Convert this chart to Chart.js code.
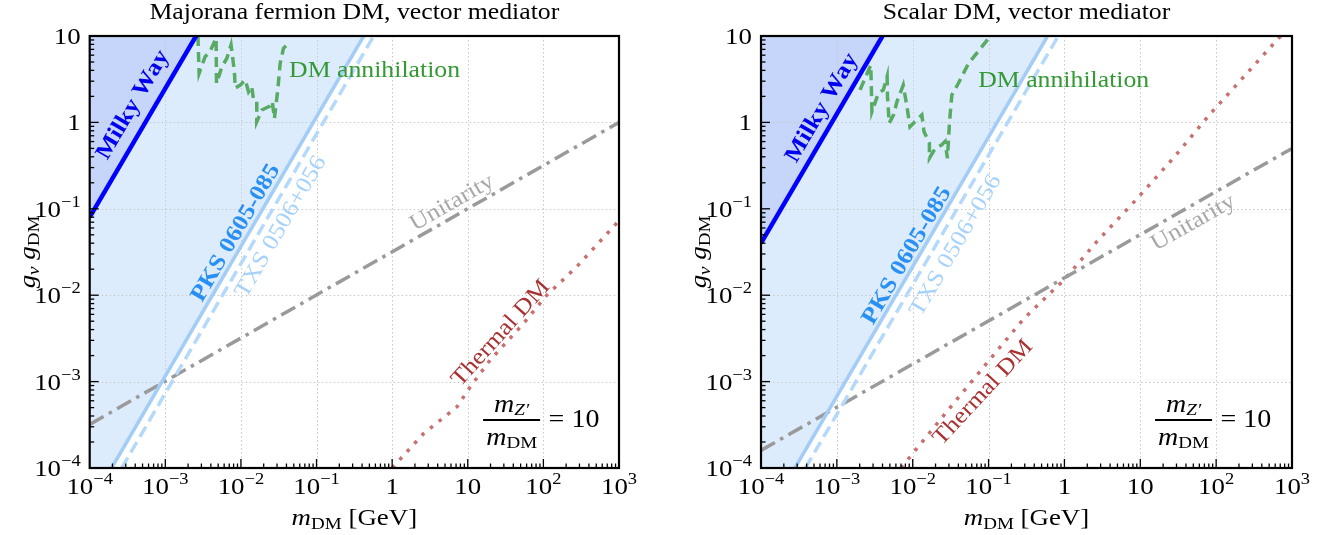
<!DOCTYPE html>
<html><head><meta charset="utf-8">
<script src="https://cdn.jsdelivr.net/npm/chart.js@4"></script>
<style>
html,body{margin:0;padding:0;background:#fff;}
#wrap{position:relative;width:1340px;height:535px;overflow:hidden;}
canvas{position:absolute;top:0;}
</style></head><body>
<div id="wrap"><canvas id="c1" width="670" height="535" style="left:0"></canvas><canvas id="c2" width="670" height="535" style="left:670px"></canvas></div>
<script>
// ---------- tick labels ----------
const xMajorTicks = [1e-4, 1e-3, 1e-2, 1e-1, 1, 10, 100, 1000];
const xTickBase = ['10', '10', '10', '10', '1', '10', '10', '10'];
const xTickExp = ['−4', '−3', '−2', '−1', '', '', '2', '3'];
const yMajorTicks = [1e-4, 1e-3, 1e-2, 1e-1, 1, 10];
const yTickBase = ['10', '10', '10', '10', '1', '10'];
const yTickExp = ['−4', '−3', '−2', '−1', '', ''];
const panelTitles = ['Majorana fermion DM, vector mediator', 'Scalar DM, vector mediator'];

// ---------- Majorana fermion DM (left) ----------
const majMilkyWayX = [1e-4, 2.55e-3];
const majMilkyWayY = [0.08, 10];
const majPksX = [1.95e-4, 0.42];
const majPksY = [1e-4, 10];
const majTxsX = [2.65e-4, 0.57];
const majTxsY = [1e-4, 10];
const majUnitarityX = [1e-4, 1e3];
const majUnitarityY = [3.2e-4, 1.0];
const majThermalX = [1, 2.6, 7.2, 10.8, 19.8, 54.6, 111, 277, 1000];
const majThermalY = [1e-4, 2.5e-4, 5.1e-4, 8.7e-4, 1.78e-3, 4.7e-3, 1.0e-2, 2.14e-2, 7.3e-2];
const majAnnihX = [2.7e-3, 2.8e-3, 3.36e-3, 3.9e-3, 4.7e-3, 4.75e-3, 5.6e-3, 6.5e-3, 7.4e-3, 8.2e-3, 8.4e-3, 9.8e-3, 0.0114, 0.0126, 0.0139, 0.0147, 0.0162, 0.0162, 0.0189, 0.0243, 0.026, 0.0277, 0.0307, 0.033, 0.0365, 0.0447];
const majAnnihY = [10, 3.7, 5.75, 6.6, 9.5, 2.83, 4.4, 5.5, 7.9, 3.9, 2.5, 2.7, 3.1, 2.27, 2.6, 1.8, 1.74, 1.02, 1.39, 1.55, 1.74, 1.11, 2.37, 4.8, 7.2, 8.6];

// ---------- Scalar DM (right) ----------
const scaMilkyWayX = [1e-4, 4.0e-3];
const scaMilkyWayY = [0.04, 10];
const scaPksX = [2.8e-4, 0.6];
const scaPksY = [1e-4, 10];
const scaTxsX = [3.85e-4, 0.83];
const scaTxsY = [1e-4, 10];
const scaUnitarityX = [1e-4, 1e3];
const scaUnitarityY = [1.6e-4, 0.5];
const scaThermalX = [7.0e-3, 0.038, 0.288, 1.0, 2.69, 9.0, 27.5, 84, 707];
const scaThermalY = [1e-4, 6.2e-4, 5.3e-3, 0.0152, 0.042, 0.13, 0.39, 1.26, 10];
const scaAnnihX = [2.02e-3, 2.8e-3, 2.9e-3, 3.53e-3, 4.1e-3, 4.6e-3, 4.65e-3, 4.9e-3, 5.6e-3, 6.2e-3, 7.5e-3, 8.4e-3, 9.2e-3, 0.0113, 0.0132, 0.0141, 0.0166, 0.0166, 0.0198, 0.0242, 0.0267, 0.0287, 0.0305, 0.0328, 0.040, 0.0543, 0.1];
const scaAnnihY = [2.38, 4.6, 1.33, 2.18, 2.38, 3.4, 1.99, 0.98, 1.22, 1.74, 2.7, 1.52, 0.89, 1.07, 1.22, 0.78, 0.575, 0.385, 0.5, 0.55, 0.6, 0.385, 0.98, 2.08, 2.84, 4.8, 9.4];

// ---------- styling helpers ----------
const SERIF = '"Liberation Serif","Times New Roman",serif';
const SX = 1.12;
const F = (size, style) => `${style || ''} ${size}px ${SERIF}`.trim();

function drawParts(ctx, parts, x, y, opt) {
  opt = opt || {};
  const align = opt.align || 'left';
  ctx.save();
  ctx.translate(x, y);
  if (opt.rot) ctx.rotate(opt.rot);
  ctx.scale(opt.sx || SX, 1);
  ctx.textBaseline = opt.baseline || 'alphabetic';
  ctx.textAlign = 'left';
  let w = 0;
  parts.forEach(p => { ctx.font = p.f; w += ctx.measureText(p.t).width + (p.gap || 0); });
  let cx = align === 'center' ? -w / 2 : (align === 'right' ? -w : 0);
  parts.forEach(p => {
    ctx.font = p.f;
    ctx.fillStyle = p.c || opt.color || '#000';
    ctx.fillText(p.t, cx, p.dy || 0);
    cx += ctx.measureText(p.t).width + (p.gap || 0);
  });
  ctx.restore();
  return w * (opt.sx || SX);
}

function series(xs, ys, color, width, dash) {
  return {
    data: xs.map((v, i) => ({ x: v, y: ys[i] })),
    showLine: true, borderColor: color, backgroundColor: color,
    borderWidth: width, borderDash: dash, borderCapStyle: 'butt',
    pointRadius: 0, fill: false, tension: 0
  };
}

function decor(p) {
  return {
    id: 'decor' + p.idx,
    beforeDatasetsDraw(chart) {
      const { ctx, chartArea: a, scales: { x, y } } = chart;
      const X = v => x.getPixelForValue(v), Y = v => y.getPixelForValue(v);
      ctx.save();
      ctx.beginPath(); ctx.rect(a.left, a.top, a.right - a.left, a.bottom - a.top); ctx.clip();
      ctx.fillStyle = 'rgb(220,236,252)';
      ctx.beginPath(); ctx.moveTo(a.left, a.bottom);
      p.pksX.forEach((v, i) => ctx.lineTo(X(v), Y(p.pksY[i])));
      ctx.lineTo(a.left, a.top); ctx.closePath(); ctx.fill();
      ctx.fillStyle = 'rgb(198,213,250)';
      ctx.beginPath(); ctx.moveTo(a.left, Y(p.mwY[0]));
      p.mwX.forEach((v, i) => ctx.lineTo(X(v), Y(p.mwY[i])));
      ctx.lineTo(a.left, a.top); ctx.closePath(); ctx.fill();
      ctx.strokeStyle = '#c8c8c8'; ctx.lineWidth = 1; ctx.setLineDash([1.5, 2.5]);
      xMajorTicks.slice(1, -1).forEach(v => {
        const px = Math.round(X(v)) + 0.5;
        ctx.beginPath(); ctx.moveTo(px, a.top); ctx.lineTo(px, a.bottom); ctx.stroke();
      });
      yMajorTicks.slice(1, -1).forEach(v => {
        const py = Math.round(Y(v)) + 0.5;
        ctx.beginPath(); ctx.moveTo(a.left, py); ctx.lineTo(a.right, py); ctx.stroke();
      });
      ctx.restore();
    },
    afterDatasetsDraw(chart) {
      const { ctx, chartArea: a, scales: { x, y } } = chart;
      const X = v => x.getPixelForValue(v), Y = v => y.getPixelForValue(v);
      const ang = (xs, ys) => Math.atan2(Y(ys[ys.length - 1]) - Y(ys[0]), X(xs[xs.length - 1]) - X(xs[0]));
      const lab = (t, vx, vy, rot, color, size, style, align) =>
        drawParts(ctx, [{ t, f: F(size, style) }], X(vx), Y(vy), { rot, color, align: align || 'center', baseline: 'middle' });
      const L = p.labels;
      lab('Milky Way', L.mw[0], L.mw[1], ang(p.mwX, p.mwY), '#0000ee', 23, 'bold');
      lab('PKS 0605-085', L.pks[0], L.pks[1], ang(p.pksX, p.pksY), '#2a8ff2', 23, 'bold');
      lab('TXS 0506+056', L.txs[0], L.txs[1], ang(p.txsX, p.txsY), '#a6d2fa', 23, '');
      lab('Unitarity', L.unit[0], L.unit[1], ang(p.unitX, p.unitY), '#a8a8a8', 23, '');
      lab('Thermal DM', L.therm[0], L.therm[1], L.thermRot * Math.PI / 180, '#a83232', 23, '');
      lab('DM annihilation', L.ann[0], L.ann[1], 0, '#339933', 23, '', 'left');
      // fraction m_Z'/m_DM = 10
      const fx = X(L.frac[0]), fy = Y(L.frac[1]);
      ctx.save();
      ctx.strokeStyle = '#000'; ctx.lineWidth = 2; ctx.setLineDash([]);
      ctx.beginPath(); ctx.moveTo(fx - 28.5, fy); ctx.lineTo(fx + 28.5, fy); ctx.stroke();
      ctx.restore();
      drawParts(ctx, [{ t: 'm', f: F(25, 'italic') }, { t: 'Z′', f: F(17, 'italic'), dy: 3 }], fx, fy - 8, { align: 'center' });
      drawParts(ctx, [{ t: 'm', f: F(25, 'italic') }, { t: 'DM', f: F(17), dy: 3 }], fx, fy + 25, { align: 'center' });
      drawParts(ctx, [{ t: '= 10', f: F(25) }], fx + 37, fy + 7, { align: 'left' });

      // frame
      ctx.save();
      ctx.strokeStyle = '#000'; ctx.lineWidth = 2.2; ctx.setLineDash([]);
      ctx.strokeRect(a.left, a.top, a.right - a.left, a.bottom - a.top);
      ctx.lineWidth = 1.3;
      for (let d = -4; d < 3; d++) for (let k = 1; k < 10; k++) {
        const v = k * Math.pow(10, d); const px = X(v); const len = k === 1 ? 9 : 4.5;
        if (px <= a.left + 0.5) continue;
        ctx.beginPath(); ctx.moveTo(px, a.bottom); ctx.lineTo(px, a.bottom - len); ctx.stroke();
      }
      for (let d = -4; d < 1; d++) for (let k = 1; k < 10; k++) {
        const v = k * Math.pow(10, d); const py = Y(v); const len = k === 1 ? 9 : 4.5;
        if (py >= a.bottom - 0.5) continue;
        ctx.beginPath(); ctx.moveTo(a.left, py); ctx.lineTo(a.left + len, py); ctx.stroke();
      }
      ctx.restore();
      xMajorTicks.forEach((v, i) => {
        const parts = [{ t: xTickBase[i], f: F(24) }];
        if (xTickExp[i]) parts.push({ t: xTickExp[i], f: F(16.5), dy: -10 });
        drawParts(ctx, parts, X(v), a.bottom + 26, { align: 'center' });
      });
      yMajorTicks.forEach((v, i) => {
        const parts = [{ t: yTickBase[i], f: F(24) }];
        if (yTickExp[i]) parts.push({ t: yTickExp[i], f: F(16.5), dy: -10 });
        drawParts(ctx, parts, a.left - 9, Y(v) + 8, { align: 'right' });
      });
      const cxm = (a.left + a.right) / 2, cym = (a.top + a.bottom) / 2;
      drawParts(ctx, [{ t: 'm', f: F(24, 'italic') }, { t: 'DM', f: F(17), dy: 4 }, { t: ' [GeV]', f: F(24) }], cxm, 525, { align: 'center' });
      drawParts(ctx, [{ t: 'g', f: F(24, 'italic') }, { t: 'ν', f: F(17, 'italic'), dy: 4, gap: 6 },
                      { t: 'g', f: F(24, 'italic') }, { t: 'DM', f: F(17), dy: 4 }], a.left - 55, cym, { align: 'center', rot: -Math.PI / 2 });
      drawParts(ctx, [{ t: p.title, f: F(23) }], cxm, 19, { align: 'center' });
    }
  };
}

function panel(canvasId, p) {
  const ds = [
    series(p.mwX, p.mwY, '#0000ff', 4.5, []),
    series(p.annX, p.annY, '#58ab62', 3.5, [10, 6]),
    series(p.pksX, p.pksY, '#a3cdf7', 3.5, []),
    series(p.txsX, p.txsY, '#b5d9fb', 3.5, [12, 6]),
    series(p.unitX, p.unitY, '#9a9a9a', 3.5, [16, 6, 3.5, 6]),
    series(p.thermX, p.thermY, '#c87070', 3.5, [3.5, 7.5])
  ];
  return new Chart(document.getElementById(canvasId), {
    type: 'scatter',
    data: { datasets: ds },
    options: {
      responsive: false, animation: false, devicePixelRatio: 1,
      layout: { padding: p.pad },
      plugins: { legend: { display: false }, tooltip: { enabled: false }, title: { display: false } },
      scales: {
        x: { type: 'logarithmic', min: 1e-4, max: 1e3, display: false },
        y: { type: 'logarithmic', min: 1e-4, max: 10, display: false }
      }
    },
    plugins: [decor(p)]
  });
}

panel('c1', {
  idx: 1, title: panelTitles[0], pad: { left: 89.7, right: 51, top: 36, bottom: 67 },
  mwX: majMilkyWayX, mwY: majMilkyWayY, pksX: majPksX, pksY: majPksY, txsX: majTxsX, txsY: majTxsY,
  unitX: majUnitarityX, unitY: majUnitarityY, thermX: majThermalX, thermY: majThermalY, annX: majAnnihX, annY: majAnnihY,
  labels: { mw: [3.75e-4, 1.59], pks: [8.6e-3, 0.0525], txs: [0.0339, 0.0617], unit: [6.2, 0.117],
            therm: [27.4, 3.62e-3], thermRot: -48, ann: [0.0433, 3.93], frac: [38, 3.6e-4] }
});
panel('c2', {
  idx: 2, title: panelTitles[1], pad: { left: 91, right: 48, top: 36, bottom: 67 },
  mwX: scaMilkyWayX, mwY: scaMilkyWayY, pksX: scaPksX, pksY: scaPksY, txsX: scaTxsX, txsY: scaTxsY,
  unitX: scaUnitarityX, unitY: scaUnitarityY, thermX: scaThermalX, thermY: scaThermalY, annX: scaAnnihX, annY: scaAnnihY,
  labels: { mw: [6.38e-4, 1.47], pks: [8.43e-3, 0.0286], txs: [0.0372, 0.0376], unit: [50, 0.0689],
            therm: [0.0849, 7.46e-4], thermRot: -47, ann: [0.073, 3.02], frac: [37.2, 3.6e-4] }
});
</script></body></html>
